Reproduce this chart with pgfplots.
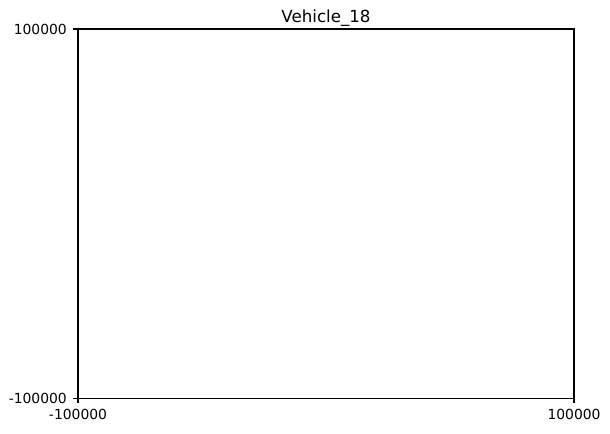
\documentclass[border=0pt]{standalone}
\usepackage{fontspec}
\setmainfont{DejaVu Sans}
\usepackage{pgfplots}
\pgfplotsset{compat=1.18}
\begin{document}
\begin{tikzpicture}
\useasboundingbox (-56.16pt,-25.2pt) rectangle (383pt,286.6pt);
\begin{axis}[
  at={(0,0)}, anchor=south west,
  scale only axis,
  width=357.1pt, height=265.7pt,
  xmin=-100000, xmax=100000,
  ymin=-100000, ymax=100000,
  xtick={-100000,100000}, ytick={-100000,100000},
  xticklabels={-100000,100000}, yticklabels={-100000,100000},
  tick align=outside,
  major tick length=3.5pt,
  every tick/.style={black, line width=0.8pt},
  axis line style={line width=0.8pt},
  xtick pos=bottom, ytick pos=left,
  ticklabel style={font=\fontsize{10}{12}\selectfont},
  xticklabel style={yshift=-1pt},
  yticklabel style={xshift=-1pt},
  title={Vehicle\_18},
  every axis title shift=0pt,
  title style={font=\fontsize{12}{14}\selectfont, at={(0.5,1)}, anchor=base, yshift=5pt, inner sep=0pt},
  scaled ticks=false,
]
\addplot[draw=none] coordinates {(0,0)};
\end{axis}
\end{tikzpicture}
\end{document}
